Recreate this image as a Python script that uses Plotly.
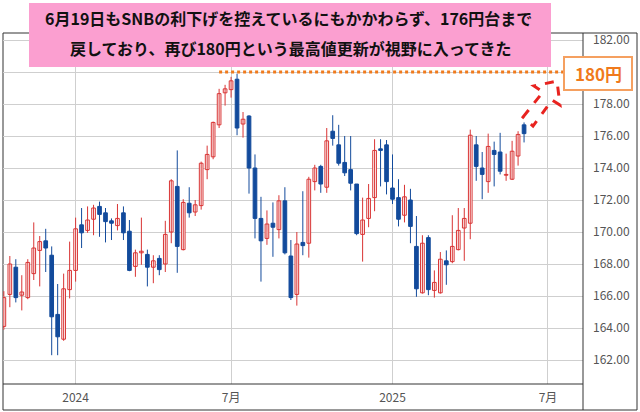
import pandas as pd
import plotly.graph_objects as go

# ---- data (weekly CHF/JPY candles) ----
week_start = "2023-10-09"
opens = [164.1, 166.1, 167.8, 166.05, 165.9, 167.4, 168.85, 169.45, 168.55, 164.85,
         163.3, 166.4, 167.6, 170.45, 170.1, 170.8, 171.6, 171.2, 170.7, 170.4,
         171.2, 170.05, 167.85, 168.7, 168.6, 167.8, 168.35, 168.0, 170.0, 172.85,
         168.9, 171.8, 171.25, 171.65, 173.9, 174.7, 176.7, 178.7, 178.9, 179.55,
         176.75, 177.25, 174.0, 170.85, 169.6, 170.55, 170.15, 171.95, 168.5, 166.1,
         169.35, 169.3, 173.15, 174.1, 172.8, 176.3, 175.45, 174.35, 173.9, 173.0,
         169.85, 170.85, 172.15, 175.2, 175.45, 172.75, 172.15, 171.05, 172.0, 169.1,
         166.2, 169.65, 166.35, 166.2, 168.2, 168.15, 168.9, 170.25, 170.55, 175.45,
         174.0, 173.15, 175.1, 175.0, 173.55, 173.3, 174.75, 176.7]
highs = [166.3, 168.5, 168.3, 167.3, 168.3, 170.6, 169.75, 170.2, 169.1, 166.75,
         167.4, 169.4, 170.9, 171.5, 171.6, 171.7, 171.9, 171.5, 170.85, 171.75,
         171.6, 170.75, 168.9, 170.9, 168.9, 168.55, 168.55, 170.7, 173.3, 175.1,
         172.05, 172.8, 172.0, 174.4, 175.4, 176.9, 178.95, 179.2, 179.7, 179.9,
         177.5, 177.3, 174.85, 172.2, 171.35, 171.85, 172.3, 172.8, 169.5, 170.0,
         172.55, 173.45, 174.2, 174.2, 176.5, 177.3, 176.7, 176.0, 176.0, 173.0,
         172.15, 173.0, 175.8, 175.8, 175.75, 174.85, 173.3, 172.95, 172.7, 171.0,
         169.8, 169.8, 167.6, 168.75, 168.85, 171.05, 171.5, 171.5, 176.4, 176.0,
         175.0, 176.15, 175.65, 176.2, 174.9, 175.7, 176.3, 176.85]
lows = [163.9, 165.3, 165.6, 165.1, 165.8, 167.0, 166.6, 167.5, 162.3, 162.3,
        163.2, 165.85, 166.9, 169.0, 169.95, 169.8, 169.7, 169.35, 169.5, 170.1,
        169.5, 167.55, 167.2, 167.95, 166.6, 166.8, 167.3, 167.5, 169.3, 167.45,
        168.85, 170.9, 171.0, 171.4, 173.3, 174.55, 176.5, 177.9, 178.4, 176.05,
        175.9, 172.4, 169.6, 166.9, 169.2, 168.45, 169.6, 168.6, 165.75, 165.4,
        168.55, 168.4, 172.6, 172.45, 172.45, 175.4, 174.15, 173.5, 172.6, 169.8,
        168.15, 170.3, 171.3, 172.85, 172.35, 171.75, 170.35, 170.6, 169.3, 165.95,
        166.15, 166.05, 165.9, 166.15, 166.7, 168.05, 168.85, 168.2, 169.55, 173.2,
        172.05, 172.45, 172.85, 173.6, 173.2, 173.25, 174.15, 175.6]
closes = [165.9, 168.0, 165.9, 166.25, 168.1, 169.0, 169.4, 169.0, 164.7, 163.45,
          166.45, 167.6, 170.2, 169.95, 170.75, 171.5, 171.1, 170.65, 170.55, 170.85,
          169.95, 167.6, 168.7, 168.8, 167.8, 168.2, 167.65, 169.85, 173.2, 169.1,
          171.85, 171.2, 171.7, 174.3, 174.85, 176.85, 178.65, 178.95, 179.45, 176.5,
          177.05, 174.0, 170.85, 169.45, 170.5, 170.3, 171.95, 168.7, 165.9, 169.25,
          169.15, 173.3, 174.0, 173.0, 175.7, 175.85, 174.3, 173.7, 173.05, 169.9,
          170.75, 172.1, 175.1, 175.1, 173.15, 172.05, 170.8, 172.2, 170.35, 166.45,
          169.3, 166.4, 166.85, 168.3, 167.95, 169.1, 170.1, 170.85, 176.05, 174.1,
          173.6, 175.35, 174.85, 173.8, 173.6, 175.05, 176.1, 176.15]
dates = pd.date_range(week_start, periods=len(opens), freq="7D")

tick_dates = ["2024-01-01", "2024-07-01", "2025-01-06", "2025-07-07"]
tick_texts = ["2024", "7月", "2025", "7月"]
y_ticks = [162, 164, 166, 168, 170, 172, 174, 176, 178, 180, 182]
y_tick_texts = ["162.00", "164.00", "166.00", "168.00", "170.00", "172.00",
                "174.00", "176.00", "178.00", "", "182.00"]
target_level = 180
target_label = "180円"
headline = ["6月19日もSNBの利下げを控えているにもかかわらず、176円台まで",
            "戻しており、再び180円という最高値更新が視野に入ってきた"]

RED = "#d93434"
BLUE = "#134b9c"
ORANGE = "#f07a1c"
FONT = "Noto Sans CJK JP"

W, H = 640, 412
ML, MR, MT, MB = 3, 57, 33, 28
PW, PH = W - ML - MR, H - MT - MB
BODY_MS = 4.3 * 86400000  # candle body width in ms on the date axis


def px(x):
    return (x - ML) / PW


def py(y):
    return (H - MB - y) / PH


fig = go.Figure()
for up, color, fill in [(True, RED, "white"), (False, BLUE, BLUE)]:
    idx = [i for i in range(len(opens)) if (closes[i] >= opens[i]) == up]
    wx, wy = [], []
    for i in idx:
        wx += [dates[i], dates[i], None]
        wy += [lows[i], highs[i], None]
    fig.add_trace(go.Scatter(x=wx, y=wy, mode="lines", line=dict(color=color, width=1),
                             showlegend=False, hoverinfo="skip"))
    fig.add_trace(go.Bar(
        x=[dates[i] for i in idx],
        y=[max(abs(closes[i] - opens[i]), 0.04) for i in idx],
        base=[min(opens[i], closes[i]) for i in idx],
        width=BODY_MS, marker=dict(color=fill, line=dict(color=color, width=1)),
        showlegend=False, hoverinfo="skip"))

shapes = []
# outer frame
shapes.append(dict(type="rect", xref="paper", yref="paper", x0=0, x1=px(637),
                   y0=py(410), y1=1, line=dict(color="#333333", width=1),
                   layer="below"))
# right axis separator and bottom axis line
shapes.append(dict(type="line", xref="paper", yref="paper", x0=1, x1=1,
                   y0=py(410), y1=1, line=dict(color="#333333", width=1)))
shapes.append(dict(type="line", xref="paper", yref="paper", x0=0, x1=1,
                   y0=0, y1=0, line=dict(color="#333333", width=1)))
# dotted 180 line
shapes.append(dict(type="line", xref="x", yref="y", x0="2024-06-17", x1="2025-07-25",
                   y0=target_level, y1=target_level,
                   line=dict(color=ORANGE, width=3, dash="dot")))
# pink headline box
shapes.append(dict(type="rect", xref="paper", yref="paper", x0=px(29), x1=px(551),
                   y0=py(67), y1=py(3), fillcolor="#fb9fd0", line=dict(width=0)))
# 180円 box
shapes.append(dict(type="rect", xref="paper", yref="paper", x0=px(564), x1=px(632),
                   y0=py(90), y1=py(57), fillcolor="white",
                   line=dict(color="#f5a060", width=2)))
# dashed arrow
arrow_pts = [(523, 117), (543, 92), (534, 86), (557, 81), (560, 105), (552, 100), (533, 126)]
path = "M " + " L ".join(f"{px(a):.4f},{py(b):.4f}" for a, b in arrow_pts) + " Z"
shapes.append(dict(type="path", xref="paper", yref="paper", path=path,
                   line=dict(color="#e8231f", width=3, dash="dash")))

annotations = [
    dict(xref="paper", yref="paper", x=px(288), y=py(18), text=f"<b>{headline[0]}</b>",
         xanchor="center", yanchor="middle",
         showarrow=False, font=dict(family=FONT, size=16, color="#111111")),
    dict(xref="paper", yref="paper", x=px(290), y=py(48), text=f"<b>{headline[1]}</b>",
         xanchor="center", yanchor="middle",
         showarrow=False, font=dict(family=FONT, size=16, color="#111111")),
    dict(xref="paper", yref="paper", x=px(598), y=py(73), text=f"<b>{target_label}</b>",
         xanchor="center", yanchor="middle",
         showarrow=False, font=dict(family=FONT, size=17, color=ORANGE)),
]

fig.update_layout(
    width=W, height=H, margin=dict(l=ML, r=MR, t=MT, b=MB, autoexpand=False),
    paper_bgcolor="white", plot_bgcolor="white", barmode="overlay",
    shapes=shapes, annotations=annotations,
    font=dict(family=FONT, size=12, color="#555555"),
    xaxis=dict(type="date", range=["2023-10-08", "2025-08-17"],
               tickvals=tick_dates, ticktext=tick_texts, ticks="",
               showgrid=True, gridcolor="#cfcfcf", gridwidth=1,
               showline=False, zeroline=False,
               ticklabelstandoff=5, tickfont=dict(size=12, color="#555555")),
    yaxis=dict(side="right", range=[160.5, 182.44], tickvals=y_ticks,
               ticktext=y_tick_texts, ticks="", showgrid=True, gridcolor="#cfcfcf",
               gridwidth=1, showline=False, zeroline=False,
               ticklabelstandoff=9, tickfont=dict(size=12, color="#555555")),
)

fig.write_html("out.html", config={"displayModeBar": False},
               post_script="document.body.style.margin='0';")
